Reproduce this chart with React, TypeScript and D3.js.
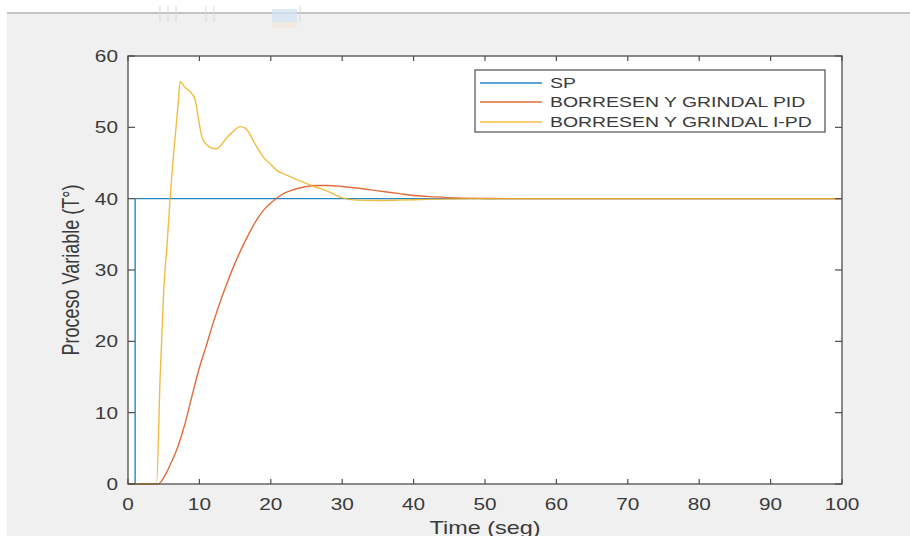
import React from "react";
import * as d3 from "d3";

// ---- data ----
const spTime = [0, 1, 1, 100];
const spValue = [0, 0, 40, 40];

const pidTime = [0, 4.2, 4.6, 5, 5.5, 6, 6.5, 7, 7.5, 8, 9, 10, 11, 12, 13, 14, 15, 16, 17, 18, 19, 20, 21, 22, 23, 24, 25, 26.5, 28, 30, 32, 35, 38, 40, 43, 46, 50, 55, 100];
const pidValue = [0, 0, 0.3, 0.9, 1.8, 2.9, 4.0, 5.3, 6.8, 8.5, 12.5, 16.3, 19.5, 22.8, 25.8, 28.5, 31.0, 33.2, 35.2, 37.0, 38.4, 39.4, 40.2, 40.8, 41.2, 41.5, 41.7, 41.85, 41.85, 41.7, 41.5, 41.1, 40.7, 40.45, 40.25, 40.1, 40.03, 40.0, 40.0];

const ipdTime = [0, 4, 4.5, 5, 5.5, 6, 6.5, 7, 7.3, 8, 8.7, 9.4, 9.9, 10.4, 11, 11.7, 12.4, 13.1, 13.8, 14.7, 15.7, 16.4, 17, 17.5, 18.2, 18.9, 20, 20.8, 22, 23.1, 25, 27, 28.7, 30, 32, 35, 38, 42, 46, 50, 100];
const ipdValue = [0, 0, 15, 27, 34, 41.5, 47.5, 53, 56.4, 55.6, 55.0, 53.9, 51.0, 48.5, 47.6, 47.1, 47.0, 47.6, 48.5, 49.4, 50.1, 49.9, 49.2, 48.2, 47.0, 45.9, 44.8, 44.0, 43.4, 42.9, 42.1, 41.4, 40.7, 40.1, 39.8, 39.75, 39.8, 39.9, 39.97, 40, 40];

const xTicks = [0, 10, 20, 30, 40, 50, 60, 70, 80, 90, 100];
const yTicks = [0, 10, 20, 30, 40, 50, 60];
const legendLabels = ["SP", "BORRESEN Y GRINDAL PID", "BORRESEN Y GRINDAL I-PD"];
const xLabel = "Time (seg)";
const yLabel = "Proceso Variable (T°)";

const colors = ["#0072BD", "#D95319", "#EDB120"];
const FONT = "'Liberation Sans', Arial, Helvetica, sans-serif";
const SX = 1.3;

export default function App() {
  const W = 910, H = 536;
  const L = 128, R = 842, T = 56, B = 484;
  const x = d3.scaleLinear().domain([0, 100]).range([L, R]);
  const y = d3.scaleLinear().domain([0, 60]).range([B, T]);

  const mk = (ts: number[], vs: number[], curve: any) =>
    d3.line<number>().x((_, i) => x(ts[i])).y((v) => y(v)).curve(curve)(vs) || "";

  const series = [
    { d: mk(spTime, spValue, d3.curveLinear), c: colors[0] },
    { d: mk(pidTime, pidValue, d3.curveMonotoneX), c: colors[1] },
    { d: mk(ipdTime, ipdValue, d3.curveMonotoneX), c: colors[2] },
  ];

  const axisColor = "#4d4d4d";
  const textColor = "#3a3a3a";

  const legX = 475, legY = 70, legW = 350, legH = 62;
  const entryY = [83, 102, 122];

  return (
    <svg width={W} height={H} style={{ position: "absolute", left: 0, top: 0 }} fontFamily={FONT}>
      <rect x={0} y={0} width={W} height={H} fill="#ffffff" />
      <rect x={7} y={13} width={W - 7} height={H - 13} fill="#f0f0f0" />
      <line x1={7} x2={W} y1={13} y2={13} stroke="#c4c4c4" strokeWidth={2} />
      {/* faint toolbar remnants */}
      <rect x={272} y={9} width={25} height={13} fill="#d5e5f3" opacity={0.8} />
      <rect x={272} y={22} width={25} height={6} fill="#f7e6dc" opacity={0.6} />
      {[160, 168, 176, 206, 214, 300].map((px, i) => (
        <line key={i} x1={px} x2={px} y1={6} y2={22} stroke="#d8d8d8" strokeWidth={1} />
      ))}

      <defs>
        <clipPath id="plotclip">
          <rect x={L} y={T - 1} width={R - L} height={B - T + 2} />
        </clipPath>
      </defs>

      <rect x={L} y={T} width={R - L} height={B - T} fill="#ffffff" />

      <g clipPath="url(#plotclip)">
        {series.map((s, i) => (
          <path key={i} d={s.d} fill="none" stroke={s.c} strokeWidth={1.4} strokeOpacity={0.85} strokeLinejoin="round" />
        ))}
      </g>

      {/* ticks */}
      {xTicks.map((t) => (
        <g key={"xt" + t}>
          <line x1={x(t)} x2={x(t)} y1={B} y2={B - 5} stroke={axisColor} strokeWidth={1.2} />
          <line x1={x(t)} x2={x(t)} y1={T} y2={T + 5} stroke={axisColor} strokeWidth={1.2} />
          <text
            transform={`translate(${x(t)},${510}) scale(${SX},1)`}
            textAnchor="middle"
            fontSize={16}
            fill={textColor}
          >
            {t}
          </text>
        </g>
      ))}
      {yTicks.map((t) => (
        <g key={"yt" + t}>
          <line x1={L} x2={L + 7} y1={y(t)} y2={y(t)} stroke={axisColor} strokeWidth={1.2} />
          <line x1={R} x2={R - 7} y1={y(t)} y2={y(t)} stroke={axisColor} strokeWidth={1.2} />
          <text
            transform={`translate(${118},${y(t) + 6}) scale(${SX},1)`}
            textAnchor="end"
            fontSize={16}
            fill={textColor}
          >
            {t}
          </text>
        </g>
      ))}

      {/* axes box */}
      <rect x={L} y={T} width={R - L} height={B - T} fill="none" stroke={axisColor} strokeWidth={1.3} />

      {/* labels */}
      <text
        transform={`translate(${(L + R) / 2},${534}) scale(${SX},1)`}
        textAnchor="middle"
        fontSize={18}
        fill={textColor}
      >
        {xLabel}
      </text>
      <text
        transform={`translate(${79},${(T + B) / 2}) scale(${SX},1) rotate(-90)`}
        textAnchor="middle"
        fontSize={18}
        fill={textColor}
      >
        {yLabel}
      </text>

      {/* legend */}
      <rect x={legX} y={legY} width={legW} height={legH} fill="#ffffff" stroke={axisColor} strokeWidth={1.2} />
      {legendLabels.map((lab, i) => (
        <g key={"lg" + i}>
          <line x1={480} x2={542} y1={entryY[i]} y2={entryY[i]} stroke={colors[i]} strokeWidth={1.4} strokeOpacity={0.85} />
          <text
            transform={`translate(${550},${entryY[i] + 5}) scale(1.34,1)`}
            fontSize={14.5}
            fill={textColor}
          >
            {lab}
          </text>
        </g>
      ))}
    </svg>
  );
}
